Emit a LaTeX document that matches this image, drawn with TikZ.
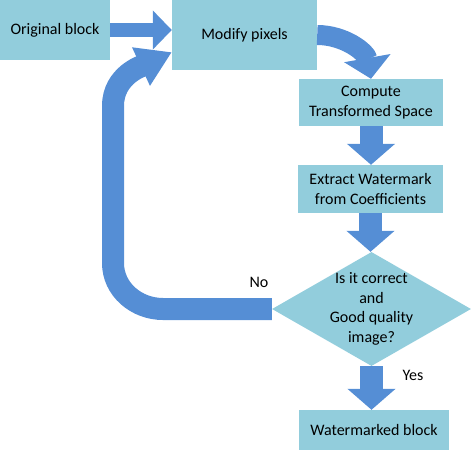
\documentclass[tikz,border=0pt]{standalone}
\usepackage{fontspec}
\setmainfont{Carlito}
\usetikzlibrary{shapes.geometric,arrows.meta}
\definecolor{boxblue}{RGB}{146,205,220}
\definecolor{arrowblue}{RGB}{85,142,213}
\tikzset{
	stepbox/.style={fill=boxblue, draw=none, inner sep=0pt, align=center,
		font=\fontsize{16}{19.5}\selectfont},
	decision/.style={stepbox, diamond, aspect=1.75, inner sep=-5pt},
	fatarrow/.style={draw=arrowblue, line width=#1},
	answer/.style={font=\fontsize{16}{18}\selectfont}
}
\begin{document}
\begin{tikzpicture}[x=1pt, y=1pt]
			\useasboundingbox (0,0) rectangle (474,451);
			% boxes
			\node (orig) [stepbox, minimum width=110pt, minimum height=60pt] at (55,421) {Original block};
			\node (modify) [stepbox, minimum width=145pt, minimum height=70pt] at (244.5,416) {Modify pixels};
			\node (compute) [stepbox, minimum width=144pt, minimum height=47pt] at (371,348.5) {Compute\\Transformed Space};
			\node (extract) [stepbox, minimum width=145pt, minimum height=48pt] at (370.5,262) {Extract Watermark\\from Coefficients};
			\node (check) [decision, minimum width=199pt, minimum height=114pt] at (371.5,142) {Is it correct\\and\\Good quality\\image?};
			\node (wm) [stepbox, minimum width=150pt, minimum height=40pt] at (374,21) {Watermarked block};
			\coordinate (loopend) at ([yshift=18pt]modify.south west);
			% arrows
			\draw [fatarrow=14pt, -{Triangle[length=19pt, width=38pt]}] (orig.east) -- (modify.west |- orig.east);
			\draw [fatarrow=20pt, -{Triangle[length=21pt, width=46pt]}] (modify.east) to[out=0, in=100] (compute.north);
			\draw [fatarrow=23pt, -{Triangle[length=21pt, width=47pt]}] (compute.south) -- (extract.north -| compute.south);
			\draw [fatarrow=23pt, -{Triangle[length=21pt, width=47pt]}] (extract.south) -- (check.north -| extract.south);
			\draw [fatarrow=23pt, -{Triangle[length=21pt, width=47pt]}] (check.south) -- (wm.north -| check.south);
			\draw [fatarrow=22pt, -{Triangle[length=34pt, width=40pt]}] (check.west) -- (163,142) to[out=180, in=-90] (113,188) -- (113,345) to[out=90, in=205] (loopend);
			% answers
			\node (no) [answer] at (259,169) {No};
			\node (yes) [answer] at (413,76) {Yes};
		\end{tikzpicture}
\end{document}
